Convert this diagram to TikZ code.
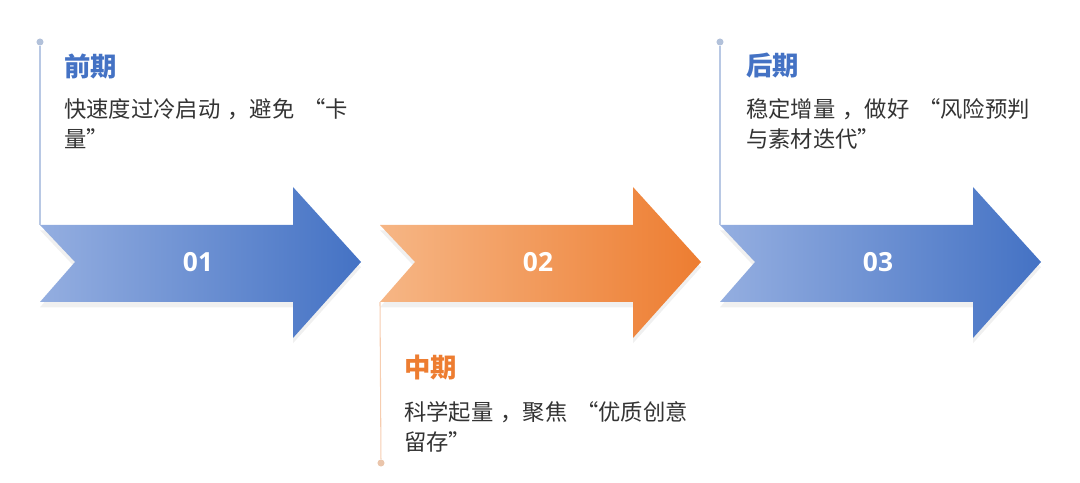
\documentclass[tikz,border=0pt]{standalone}
\usepackage{fontspec}
\setmainfont{Noto Sans CJK SC}
\newfontfamily\numfont{Open Sans}
\usepackage{xcolor}
\usetikzlibrary{positioning, shadows}

\definecolor{stageblue}{HTML}{4472C4}
\definecolor{paleblue}{HTML}{94AEE0}
\definecolor{stageorange}{HTML}{ED7D31}
\definecolor{paleorange}{HTML}{F6B685}
\definecolor{bodygray}{HTML}{333333}
\definecolor{lineblue}{HTML}{B8C8E4}
\definecolor{lineorange}{HTML}{F6CDB0}

% centred full-width comma
\newcommand{\fwcomma}{\kern4pt，}

\begin{document}
\begin{tikzpicture}[
  x=0.02cm, y=-0.02cm,
  arrowshape/.style={drop shadow={opacity=0.12, shadow xshift=0pt, shadow yshift=-3pt}},
  numlabel/.style={text=white, font=\numfont\bfseries\fontsize{15pt}{18pt}\selectfont, inner sep=0pt},
  stagetitle/.style={anchor=west, inner sep=0pt, font=\bfseries\fontsize{15pt}{18pt}\selectfont},
  stagetext/.style={anchor=north west, inner sep=0pt, align=left, text=bodygray, font=\fontsize{12.7pt}{17pt}\selectfont},
  dotmark/.style={circle, inner sep=0pt, minimum size=4pt},
  every node/.style={font=\small}
]
  \useasboundingbox (0,0) rectangle (1080,483);

  % the three chevron arrows
  \foreach \x/\lc/\dc/\num [count=\i] in {40/paleblue/stageblue/01, 380/paleorange/stageorange/02, 720/paleblue/stageblue/03} {
    \shade[arrowshape, left color=\lc, right color=\dc]
      (\x,225) -- ++(253,0) -- ++(0,-38) -- ++(68,75) -- ++(-68,76) -- ++(0,-36) -- ++(-253,0) -- ++(35,-40) -- cycle;
    \node[numlabel] (num\i) at (\x+158,262) {\num};
    \coordinate (top\i) at (\x,225);
    \coordinate (bot\i) at (\x,302);
  }

  % guide lines with end dots
  \node[dotmark, fill=lineblue!90!gray] (dot1) at (40,42) {};
  \node[dotmark, fill=lineorange!90!gray] (dot2) at (381,463) {};
  \node[dotmark, fill=lineblue!90!gray] (dot3) at (720,42) {};
  \draw[lineblue, line width=0.6pt] (dot1) -- (top1);
  \draw[lineorange, line width=0.6pt] (bot2) -- (dot2);
  \draw[lineblue, line width=0.6pt] (dot3) -- (top3);

  % stage 1
  \node[stagetitle, text=stageblue] (ttl1) at (64,66) {前期};
  \node[stagetext] (txt1) at (64,98) {快速度过冷启动\fwcomma 避免\hspace{5pt}“卡\\量”};

  % stage 2
  \node[stagetitle, text=stageorange] (ttl2) at (404,368) {中期};
  \node[stagetext] (txt2) at (404,401) {科学起量\fwcomma 聚焦\hspace{5pt}“优质创意\\留存”};

  % stage 3
  \node[stagetitle, text=stageblue] (ttl3) at (746,66) {后期};
  \node[stagetext] (txt3) at (746,98) {稳定增量\fwcomma 做好\hspace{5pt}“风险预判\\与素材迭代”};

\end{tikzpicture}
\end{document}
